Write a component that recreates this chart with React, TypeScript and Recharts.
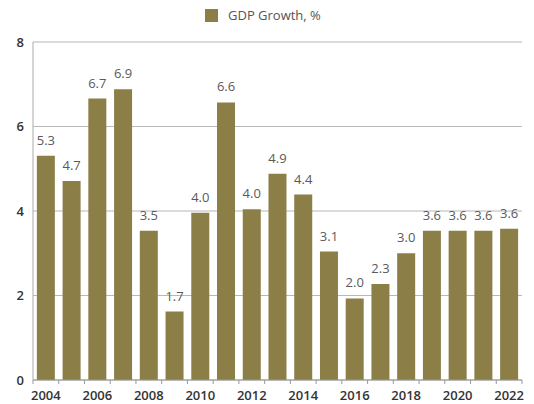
import React from 'react';
import { BarChart, Bar, XAxis, YAxis, CartesianGrid, LabelList } from 'recharts';

const years = ['2004', '2005', '2006', '2007', '2008', '2009', '2010', '2011', '2012', '2013', '2014', '2015', '2016', '2017', '2018', '2019', '2020', '2021', '2022'];
const growth = [5.31, 4.71, 6.66, 6.88, 3.53, 1.62, 3.96, 6.57, 4.04, 4.88, 4.39, 3.04, 1.93, 2.27, 3.0, 3.53, 3.53, 3.53, 3.58];
const valueLabels = ['5.3', '4.7', '6.7', '6.9', '3.5', '1.7', '4.0', '6.6', '4.0', '4.9', '4.4', '3.1', '2.0', '2.3', '3.0', '3.6', '3.6', '3.6', '3.6'];
const shownYears = ['2004', '2006', '2008', '2010', '2012', '2014', '2016', '2018', '2020', '2022'];
const yTicks = [0, 2, 4, 6, 8];
const seriesName = 'GDP Growth, %';

const data = years.map((y, i) => ({ year: y, growth: growth[i], label: valueLabels[i] }));

const W = 534;
const H = 404;
const M = { top: 42, right: 12, bottom: 4, left: 0 };
const Y_AXIS_W = 33;
const PLOT_W = W - M.left - M.right - Y_AXIS_W;
const STEP = PLOT_W / years.length;
const BAR_COLOR = '#8b7e47';
const FONT = '"Open Sans", "DejaVu Sans", sans-serif';

const XTick = (props: any) => {
  const { x, y, payload, index } = props;
  const half = STEP / 2;
  const isLast = index === years.length - 1;
  return (
    <g>
      <line x1={x - half} x2={x - half} y1={y} y2={y + 4} stroke="#999" />
      {isLast && <line x1={x + half} x2={x + half} y1={y} y2={y + 4} stroke="#999" />}
      {shownYears.includes(payload.value) && (
        <text x={x} y={y + 20} textAnchor="middle" fill="#333" fontSize={13} fontWeight={600} fontFamily={FONT}>
          {payload.value}
        </text>
      )}
    </g>
  );
};

export default function App() {
  return (
    <div style={{ position: 'absolute', left: 0, top: 0, width: W, height: H, background: '#fff' }}>
      <div style={{ position: 'absolute', left: 205, top: 6, display: 'flex', alignItems: 'center', fontFamily: FONT, fontSize: 13, color: '#555', zIndex: 1 }}>
        <span style={{ display: 'inline-block', width: 13, height: 13, background: BAR_COLOR, marginRight: 10 }} />
        <span>{seriesName}</span>
      </div>
      <BarChart width={W} height={H} data={data} margin={M} barCategoryGap="15%">
        <CartesianGrid yAxisId="l" horizontal vertical={false} stroke="#b8b8b8" strokeWidth={1.2} />
        <XAxis
          dataKey="year"
          interval={0}
          tickSize={0}
          tickMargin={0}
          tickLine={false}
          axisLine={{ stroke: '#999' }}
          height={20}
          tick={<XTick />}
        />
        <YAxis
          yAxisId="l"
          domain={[0, 8]}
          ticks={yTicks}
          width={Y_AXIS_W}
          tickLine={false}
          tickSize={0}
          tickMargin={9}
          axisLine={{ stroke: '#aaa' }}
          tick={{ fill: '#333', fontSize: 13, fontWeight: 600, fontFamily: FONT }}
        />
        <YAxis yAxisId="r" orientation="right" domain={[0, 8]} width={0} tick={false} tickLine={false} axisLine={{ stroke: '#aaa' }} />
        <Bar yAxisId="l" dataKey="growth" name={seriesName} fill={BAR_COLOR} isAnimationActive={false}>
          <LabelList dataKey="label" position="top" offset={11} fill="#5a5a5a" fontSize={13} fontFamily={FONT} />
        </Bar>
      </BarChart>
    </div>
  );
}
